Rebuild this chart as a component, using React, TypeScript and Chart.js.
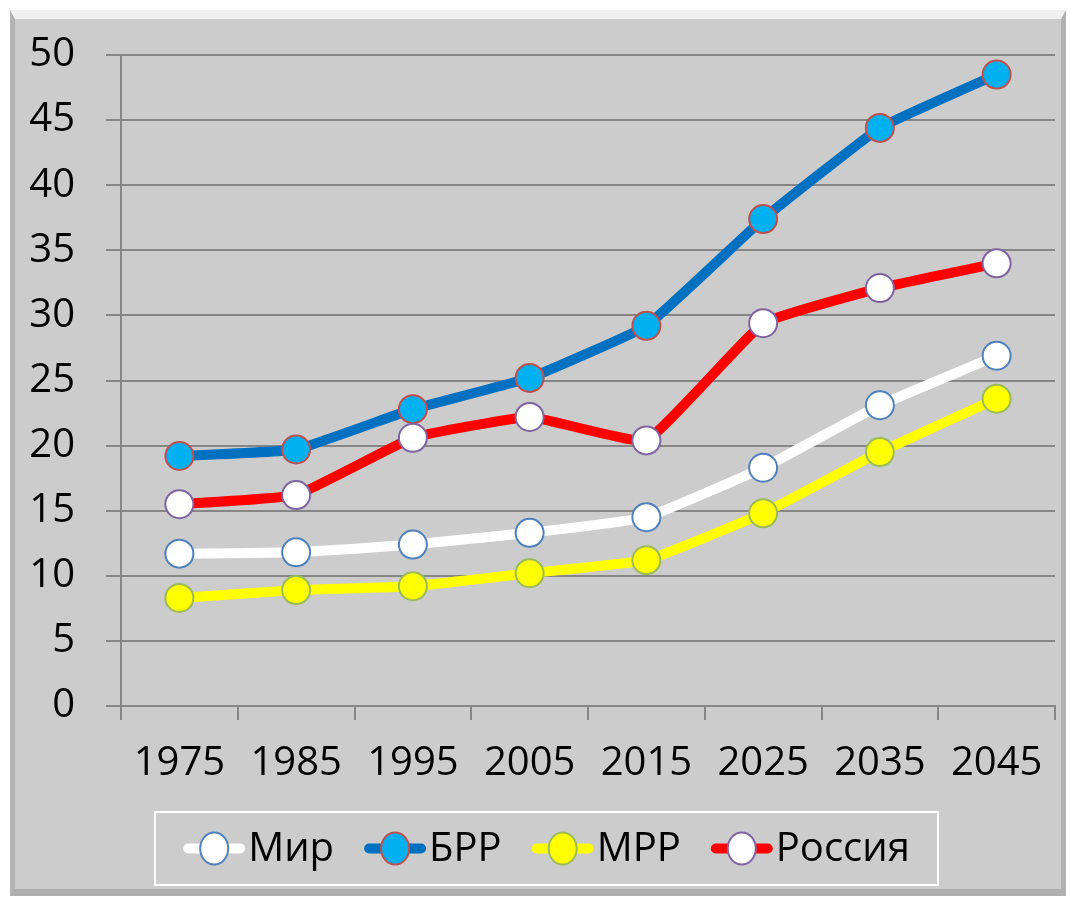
import React, { useEffect, useRef } from "react";
import { Chart, registerables } from "chart.js";

Chart.register(...registerables);

const years = ["1975", "1985", "1995", "2005", "2015", "2025", "2035", "2045"];
const seriesNames = ["Мир", "БРР", "МРР", "Россия"];
const mir = [11.7, 11.8, 12.4, 13.3, 14.5, 18.3, 23.1, 26.9];
const brr = [19.2, 19.7, 22.8, 25.2, 29.2, 37.4, 44.4, 48.5];
const mrr = [8.3, 8.9, 9.2, 10.2, 11.2, 14.8, 19.5, 23.6];
const russia = [15.5, 16.2, 20.6, 22.2, 20.4, 29.4, 32.1, 34.0];
const yMin = 0;
const yMax = 50;
const yStep = 5;

const FONT = '"Open Sans", "DejaVu Sans", sans-serif';
const GRID = "#868686";

const styles = [
  { line: "#ffffff", fill: "#ffffff", border: "#4f81bd" },
  { line: "#0070c0", fill: "#00b0f0", border: "#c0504d" },
  { line: "#ffff00", fill: "#ffff00", border: "#9bbb59" },
  { line: "#ff0000", fill: "#ffffff", border: "#8064a2" },
];

const legendPlugin = {
  id: "customLegend",
  afterDraw(chart: any) {
    const ctx = chart.ctx as CanvasRenderingContext2D;
    ctx.save();
    const bx = 155, by = 812, bw = 783, bh = 73;
    ctx.strokeStyle = "#ffffff";
    ctx.lineWidth = 2;
    ctx.strokeRect(bx, by, bw, bh);
    ctx.font = `40px ${FONT}`;
    ctx.textBaseline = "middle";
    ctx.textAlign = "left";
    const sample = 62;
    const gap = 30;
    const cy = by + bh / 2;
    const widths = chart.data.datasets.map((d: any) => ctx.measureText(d.label).width);
    const total = widths.reduce((a: number, w: number) => a + sample + 3 + w, 0) + gap * (widths.length - 1);
    let x = bx + bw / 2 - total / 2;
    chart.data.datasets.forEach((d: any, i: number) => {
      ctx.strokeStyle = d.borderColor;
      ctx.lineWidth = 10;
      ctx.lineCap = "round";
      ctx.beginPath();
      ctx.moveTo(x + 5, cy);
      ctx.lineTo(x + sample - 5, cy);
      ctx.stroke();
      ctx.beginPath();
      ctx.ellipse(x + sample / 2, cy, 14, 16, 0, 0, Math.PI * 2);
      ctx.fillStyle = d.pointBackgroundColor;
      ctx.fill();
      ctx.lineWidth = 2;
      ctx.strokeStyle = d.pointBorderColor;
      ctx.stroke();
      ctx.fillStyle = "#000000";
      ctx.fillText(d.label, x + sample + 3, cy + 1);
      x += sample + 3 + widths[i] + gap;
    });
    ctx.restore();
  },
};

export default function App() {
  const ref = useRef<HTMLCanvasElement | null>(null);
  useEffect(() => {
    if (!ref.current) return;
    const all = [mir, brr, mrr, russia];
    const chart = new Chart(ref.current, {
      type: "line",
      data: {
        labels: years,
        datasets: all.map((vals, i) => ({
          label: seriesNames[i],
          data: vals,
          borderColor: styles[i].line,
          backgroundColor: styles[i].line,
          borderWidth: 10,
          tension: 0.1,
          pointRadius: 14,
          pointBorderWidth: 2,
          pointBackgroundColor: styles[i].fill,
          pointBorderColor: styles[i].border,
          order: 4 - i,
        })),
      },
      options: {
        responsive: false,
        animation: false,
        events: [],
        layout: { padding: { left: 20, right: 19, top: 53, bottom: 83 } },
        plugins: { legend: { display: false }, tooltip: { enabled: false } },
        scales: {
          x: {
            offset: true,
            grid: { offset: true, drawOnChartArea: false, tickLength: 14, color: GRID, lineWidth: 2 },
            border: { color: GRID, width: 2 },
            ticks: { font: { family: FONT, size: 40 }, color: "#000", padding: 20, maxRotation: 0 },
            afterFit: (s: any) => { s.height = 110; },
          },
          y: {
            min: yMin,
            max: yMax,
            ticks: { stepSize: yStep, font: { family: FONT, size: 40 }, color: "#000", padding: 31 },
            grid: { color: GRID, lineWidth: 2, tickLength: 15 },
            border: { color: GRID, width: 2 },
            afterFit: (s: any) => { s.width = 101; },
          },
        },
      },
      plugins: [legendPlugin],
    });
    return () => chart.destroy();
  }, []);

  return (
    <div style={{ position: "fixed", left: 0, top: 0, width: 1074, height: 899, background: "#ffffff" }}>
      <div
        style={{
          position: "absolute",
          left: 10,
          top: 10,
          width: 1056,
          height: 886,
          boxSizing: "border-box",
          background: "#cccccc",
          borderTop: "9px solid #f0f0f0",
          borderLeft: "5px solid #b4b4b4",
          borderRight: "5px solid #b0b0b0",
          borderBottom: "7px solid #b0b0b0",
        }}
      />
      <canvas ref={ref} width={1074} height={899} style={{ position: "absolute", left: 0, top: 0 }} />
    </div>
  );
}
